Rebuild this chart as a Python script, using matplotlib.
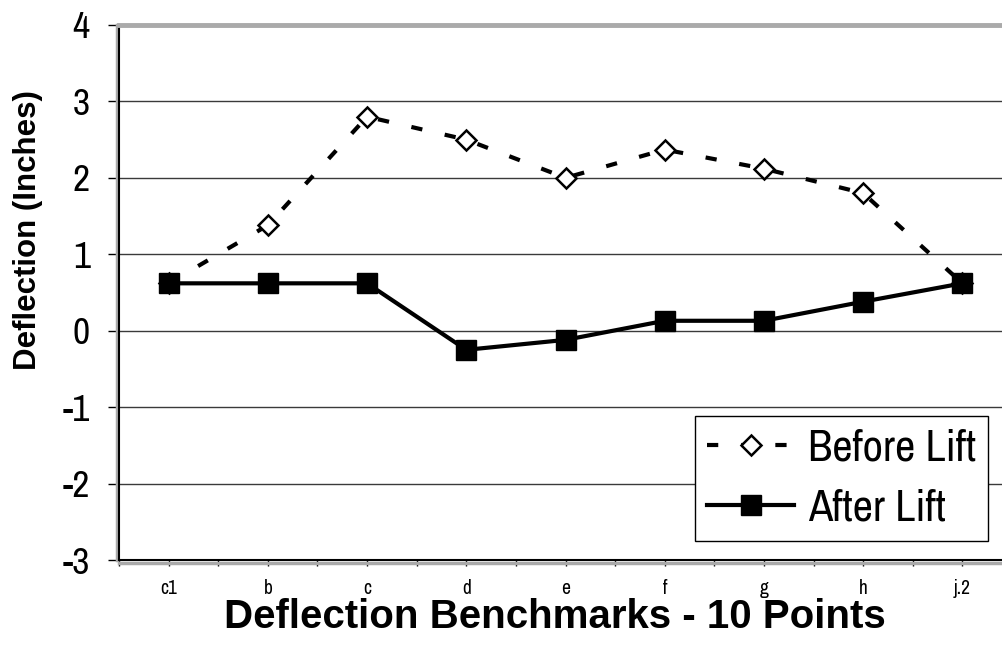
import matplotlib
matplotlib.use('Agg')
import matplotlib.pyplot as plt
from matplotlib import font_manager, transforms
from matplotlib.lines import Line2D

categories = ['c1', 'b', 'c', 'd', 'e', 'f', 'g', 'h', 'j.2']
before_lift = [0.62, 1.38, 2.80, 2.50, 2.00, 2.37, 2.12, 1.80, 0.62]
after_lift = [0.62, 0.62, 0.62, -0.25, -0.12, 0.13, 0.13, 0.38, 0.62]
y_ticks = [-3, -2, -1, 0, 1, 2, 3, 4]

fl = font_manager.fontManager.ttflist
narrow = sorted({f.name for f in fl if 'Narrow' in f.name})
if narrow:
    NARROW, NARROW_OK = narrow[0], True
else:
    NARROW, NARROW_OK = 'Liberation Sans', False
REG = 'Liberation Sans'


def _w(v):
    if isinstance(v, str):
        return 700 if 'bold' in v.lower() else 400
    return v


NARROW_BOLD = NARROW_OK and any(f.name == NARROW and _w(f.weight) >= 600 for f in fl)

W, H = 1002, 664
fig = plt.figure(figsize=(W / 100, H / 100), dpi=100)
ax = fig.add_axes([119 / W, 104 / H, 893 / W, 535 / H])

x = list(range(1, len(categories) + 1))
ax.plot(x, before_lift, color='black', lw=3, dashes=(2.7, 5.5),
        marker='D', ms=10.5, mfc='white', mec='black', mew=1.8,
        label='Before Lift', zorder=3)
ax.plot(x, after_lift, color='black', lw=3, marker='s', ms=15,
        mfc='black', mec='black', mew=1, label='After Lift', zorder=4)

ax.set_xlim(0.5, len(categories) + 0.5)
ax.set_ylim(-3, 4)
ax.set_yticks(y_ticks)
ax.set_yticklabels([str(v) for v in y_ticks], fontfamily=NARROW,
                   fontsize=27 if NARROW_OK else 26)
ax.set_xticks(x)
ax.set_xticklabels(categories, fontfamily=NARROW, fontsize=14 if NARROW_OK else 13)
ax.set_xticks([i + 0.5 for i in range(0, len(categories) + 1)], minor=True)

ax.yaxis.grid(True, color='#3a3a3a', lw=1)
ax.set_axisbelow(True)

ax.tick_params(axis='y', direction='out', length=8, width=1, pad=13, color='black')
ax.tick_params(axis='x', which='both', direction='out', length=4.5, width=1,
               pad=9, color='black')

ax.spines['right'].set_visible(False)
ax.spines['top'].set_color('#aaaaaa')
ax.spines['top'].set_linewidth(3.5)
ax.spines['left'].set_color('black')
ax.spines['left'].set_linewidth(1.5)
ax.spines['bottom'].set_color('black')
ax.spines['bottom'].set_linewidth(1.5)

# grey shadow bands of the plot-area border
tl = transforms.offset_copy(ax.transAxes, fig=fig, x=-2.5, y=0, units='dots')
ax.add_line(Line2D([0, 0], [0, 1], transform=tl, color='#aaaaaa', lw=2.5,
                   clip_on=False, zorder=1))
tb = transforms.offset_copy(ax.transAxes, fig=fig, x=0, y=-2.5, units='dots')
ax.add_line(Line2D([0, 1], [0, 0], transform=tb, color='#aaaaaa', lw=2.5,
                   clip_on=False, zorder=1))

if NARROW_BOLD:
    yl_family, yl_size = NARROW, 26
else:
    yl_family, yl_size = REG, 22.5
fig.text(28 / W, 1 - 230 / H, 'Deflection (Inches)', rotation=90,
         ha='center', va='center', fontfamily=yl_family, fontweight='bold',
         fontsize=yl_size)
fig.text(555 / W, 1 - 628 / H, 'Deflection Benchmarks - 10 Points',
         ha='center', va='baseline', fontfamily=REG, fontweight='bold',
         fontsize=29)

leg_fs = 32 if NARROW_OK else 28
leg = ax.legend(loc='lower right', bbox_to_anchor=(988 / W, 123 / H),
                bbox_transform=fig.transFigure, borderaxespad=0,
                prop={'family': NARROW, 'size': leg_fs},
                handlelength=2.24 * 28 / leg_fs, handletextpad=0.3,
                borderpad=0.28, labelspacing=0.45, fancybox=False,
                framealpha=1, edgecolor='black')
leg.get_frame().set_linewidth(1)

fig.savefig('out.png', dpi=100)
